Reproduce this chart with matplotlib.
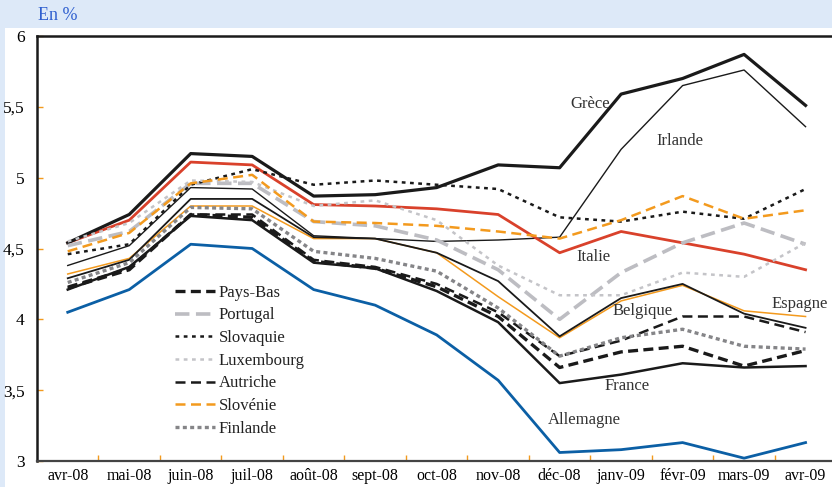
import matplotlib
matplotlib.use("Agg")
from matplotlib import pyplot as plt
from matplotlib.patches import Rectangle
import numpy as np

months = ['avr-08', 'mai-08', 'juin-08', 'juil-08', 'août-08', 'sept-08', 'oct-08',
          'nov-08', 'déc-08', 'janv-09', 'févr-09', 'mars-09', 'avr-09']

grece = [4.54, 4.74, 5.17, 5.15, 4.87, 4.88, 4.93, 5.09, 5.07, 5.59, 5.70, 5.87, 5.51]
irlande = [4.38, 4.52, 4.93, 4.92, 4.59, 4.57, 4.55, 4.56, 4.58, 5.20, 5.65, 5.76, 5.36]
italie = [4.54, 4.70, 5.11, 5.09, 4.81, 4.80, 4.78, 4.74, 4.47, 4.62, 4.54, 4.46, 4.35]
slovaquie = [4.46, 4.53, 4.95, 5.06, 4.95, 4.98, 4.95, 4.92, 4.72, 4.69, 4.76, 4.71, 4.92]
slovenie = [4.48, 4.61, 4.96, 5.02, 4.69, 4.68, 4.66, 4.62, 4.57, 4.70, 4.87, 4.71, 4.77]
portugal = [4.52, 4.62, 4.96, 4.96, 4.69, 4.66, 4.56, 4.35, 4.00, 4.33, 4.54, 4.68, 4.53]
luxembourg = [4.55, 4.68, 4.98, 4.97, 4.80, 4.84, 4.70, 4.38, 4.17, 4.17, 4.33, 4.30, 4.54]
belgique = [4.29, 4.42, 4.85, 4.85, 4.58, 4.57, 4.47, 4.27, 3.88, 4.15, 4.25, 4.04, 3.94]
espagne = [4.32, 4.43, 4.80, 4.80, 4.57, 4.57, 4.47, 4.16, 3.87, 4.13, 4.24, 4.06, 4.02]
finlande = [4.26, 4.40, 4.79, 4.78, 4.48, 4.43, 4.34, 4.08, 3.74, 3.87, 3.93, 3.81, 3.79]
autriche = [4.23, 4.36, 4.74, 4.74, 4.42, 4.37, 4.25, 4.05, 3.74, 3.85, 4.02, 4.02, 3.91]
paysbas = [4.22, 4.35, 4.74, 4.72, 4.41, 4.36, 4.23, 4.02, 3.66, 3.77, 3.81, 3.67, 3.78]
france = [4.21, 4.37, 4.73, 4.70, 4.40, 4.36, 4.20, 3.98, 3.55, 3.61, 3.69, 3.66, 3.67]
allemagne = [4.05, 4.21, 4.53, 4.50, 4.21, 4.10, 3.89, 3.57, 3.06, 3.08, 3.13, 3.02, 3.13]

serif = 'Liberation Serif'
orange = '#f39a1e'

fig = plt.figure(figsize=(8.32, 4.87), dpi=100)
fig.patch.set_facecolor('#dde9f8')
# white panel under the header band
fig.patches.append(Rectangle((5 / 832, 0), 1, (487 - 28) / 487, transform=fig.transFigure,
                             facecolor='white', edgecolor='none', zorder=0))
fig.text(38 / 832, 1 - 15 / 487, 'En %', color='#2f5fcf', fontsize=13, family=serif,
         va='center', ha='left')

ax = fig.add_axes([37 / 832, 26 / 487, 1 - 37 / 832, (461 - 36) / 487])
ax.set_zorder(2)
ax.set_facecolor('white')
x = np.arange(len(months))

# unlabelled (annotated) lines first
ax.plot(x, allemagne, color='#0b5fa5', lw=2.0)
ax.plot(x, espagne, color=orange, lw=1.1)
ax.plot(x, belgique, color='#1a1a1a', lw=1.3)
ax.plot(x, france, color='#1a1a1a', lw=1.8)
ax.plot(x, irlande, color='#1a1a1a', lw=1.0)
ax.plot(x, italie, color='#d9412b', lw=2.0)
ax.plot(x, grece, color='#1a1a1a', lw=2.3)

l_pb, = ax.plot(x, paysbas, color='#1a1a1a', lw=2.4, ls=(0, (3, 1.6)), label='Pays-Bas')
l_pt, = ax.plot(x, portugal, color='#bdbdc2', lw=2.6, ls=(0, (4, 1.8)), label='Portugal')
l_sk, = ax.plot(x, slovaquie, color='#1a1a1a', lw=1.8, ls=(0, (1.5, 1.8)), label='Slovaquie')
l_lu, = ax.plot(x, luxembourg, color='#c4c4c8', lw=1.8, ls=(0, (1.5, 1.8)), label='Luxembourg')
l_at, = ax.plot(x, autriche, color='#1a1a1a', lw=1.8, ls=(0, (4, 2.2)), label='Autriche')
l_si, = ax.plot(x, slovenie, color=orange, lw=1.8, ls=(0, (4, 2.2)), label='Slovénie')
l_fi, = ax.plot(x, finlande, color='#858588', lw=2.4, ls=(0, (1.2, 1.0)), label='Finlande')

leg = ax.legend(handles=[l_pb, l_pt, l_sk, l_lu, l_at, l_si, l_fi], loc='upper left',
                bbox_to_anchor=(0.155, 0.45), frameon=False, handlelength=2.4,
                handletextpad=0.2, labelspacing=0.4, prop={'family': serif, 'size': 12})
for t in leg.get_texts():
    t.set_color('#222222')

labels = [('Grèce', 8.5, 5.52), ('Irlande', 9.95, 5.26), ('Italie', 8.55, 4.44),
          ('Belgique', 9.35, 4.06), ('Espagne', 11.9, 4.11), ('France', 9.1, 3.53),
          ('Allemagne', 8.4, 3.29)]
for name, lx, ly in labels:
    ax.text(lx, ly, name, family=serif, fontsize=12, color='#333333', ha='center', va='center')

ax.set_xlim(-0.5, 12.43)
ax.set_ylim(3, 6)
ax.set_yticks(np.arange(3, 6.01, 0.5))
ax.set_yticklabels(['3', '3,5', '4', '4,5', '5', '5,5', '6'], family=serif, fontsize=12.5)
ax.set_xticks(x)
ax.set_xticklabels(months, family=serif, fontsize=11.5)
ax.set_xticks(np.arange(0.5, 12.5, 1), minor=True)
ax.tick_params(axis='x', which='major', length=0, pad=5)
ax.tick_params(axis='x', which='minor', direction='in', length=4, color=orange, width=1)
ax.tick_params(axis='y', direction='in', length=4, color=orange, width=1, pad=9)

for side in ['left', 'top']:
    ax.spines[side].set_color('#1a1a1a')
    ax.spines[side].set_linewidth(1.8)
ax.spines['bottom'].set_color('#444444')
ax.spines['bottom'].set_linewidth(1.6)
ax.spines['right'].set_visible(False)

fig.savefig('out.png', dpi=100, facecolor=fig.get_facecolor())
